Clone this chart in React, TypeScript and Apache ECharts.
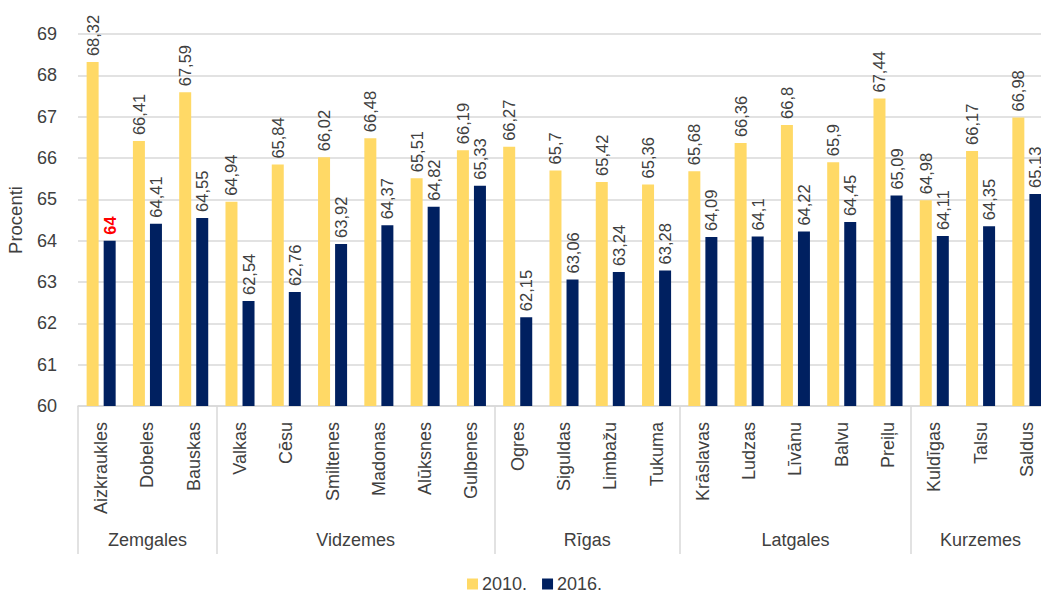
import React, { useEffect, useRef } from "react";
import * as echarts from "echarts";

const districts = [
  "Aizkraukles", "Dobeles", "Bauskas",
  "Valkas", "Cēsu", "Smiltenes", "Madonas", "Alūksnes", "Gulbenes",
  "Ogres", "Siguldas", "Limbažu", "Tukuma",
  "Krāslavas", "Ludzas", "Līvānu", "Balvu", "Preiļu",
  "Kuldīgas", "Talsu", "Saldus",
];
const values2010 = [
  68.32, 66.41, 67.59,
  64.94, 65.84, 66.02, 66.48, 65.51, 66.19,
  66.27, 65.7, 65.42, 65.36,
  65.68, 66.36, 66.8, 65.9, 67.44,
  64.98, 66.17, 66.98,
];
const values2016 = [
  64, 64.41, 64.55,
  62.54, 62.76, 63.92, 64.37, 64.82, 65.33,
  62.15, 63.06, 63.24, 63.28,
  64.09, 64.1, 64.22, 64.45, 65.09,
  64.11, 64.35, 65.13,
];
const regionNames = ["Zemgales", "Vidzemes", "Rīgas", "Latgales", "Kurzemes"];
const regionSizes = [3, 6, 4, 5, 3];
const highlightIndex2016 = 0;

const TEXT = "#404040";
const GRID = "#D9D9D9";
const YELLOW = "#FFD966";
const NAVY = "#002060";
const FONT = "'Liberation Sans', Arial, sans-serif";

export default function App() {
  const ref = useRef<HTMLDivElement>(null);
  useEffect(() => {
    if (!ref.current) return;
    const chart = echarts.init(ref.current, null, { renderer: "svg" });

    const boundaries: number[] = [0];
    const centers: number[] = [];
    let acc = 0;
    regionSizes.forEach((s) => {
      centers.push(acc + s / 2);
      acc += s;
      boundaries.push(acc);
    });
    const total = acc;
    const centerName = (v: number) => {
      const i = centers.findIndex((c) => Math.abs(c - v) < 1e-6);
      return i >= 0 ? regionNames[i] : "";
    };

    const fmt = (p: any) => String(p.value).replace(".", ",");
    const baseLabel = {
      show: true,
      position: "top",
      rotate: 90,
      align: "left",
      verticalAlign: "middle",
      distance: 6,
      fontSize: 16.5,
      color: TEXT,
      fontFamily: FONT,
      formatter: fmt,
    };

    const data2016 = values2016.map((v, i) =>
      i === highlightIndex2016
        ? { value: v, label: { color: "#FF0000", fontWeight: "bold" } }
        : v
    );

    chart.setOption({
      animation: false,
      textStyle: { fontFamily: FONT },
      grid: {
        left: 78,
        top: 34,
        width: 972,
        height: 372,
        containLabel: false,
        outerBoundsMode: "none",
      },
      legend: {
        data: ["2010.", "2016."],
        left: 462,
        top: 570,
        icon: "rect",
        itemWidth: 11,
        itemHeight: 11,
        itemGap: 15,
        itemStyle: { borderWidth: 0 },
        textStyle: { fontSize: 18, color: TEXT, fontFamily: FONT, padding: [0, 0, 0, -1] },
      },
      xAxis: [
        {
          type: "category",
          data: districts,
          axisLine: { show: true, lineStyle: { color: GRID, width: 1.5 } },
          axisTick: { show: false },
          axisLabel: {
            interval: 0,
            rotate: 90,
            margin: 16,
            fontSize: 18,
            color: TEXT,
            fontFamily: FONT,
          },
        },
        {
          type: "value",
          position: "bottom",
          min: 0,
          max: total,
          axisLine: { show: false },
          splitLine: { show: false },
          axisTick: {
            show: true,
            customValues: boundaries,
            length: 148,
            lineStyle: { color: GRID, width: 1.5 },
          },
          axisLabel: {
            customValues: centers,
            formatter: (v: number) => centerName(v),
            margin: 125,
            fontSize: 18,
            color: TEXT,
            fontFamily: FONT,
          },
        },
      ],
      yAxis: {
        type: "value",
        min: 60,
        max: 69,
        interval: 1,
        name: "Procenti",
        nameLocation: "middle",
        nameGap: 53,
        nameTextStyle: { fontSize: 18.5, color: TEXT, fontFamily: FONT },
        axisLine: { show: false },
        axisTick: { show: false },
        axisLabel: { fontSize: 18, color: TEXT, margin: 21, fontFamily: FONT },
        splitLine: { lineStyle: { color: GRID, width: 1.5 } },
      },
      series: [
        {
          name: "2010.",
          type: "bar",
          data: values2010,
          barWidth: 12,
          barGap: "42%",
          itemStyle: { color: YELLOW },
          label: baseLabel,
        },
        {
          name: "2016.",
          type: "bar",
          data: data2016,
          barWidth: 12,
          barGap: "42%",
          itemStyle: { color: NAVY },
          label: baseLabel,
        },
      ],
    });
    return () => chart.dispose();
  }, []);
  return (
    <div
      ref={ref}
      style={{ position: "absolute", left: 0, top: 0, width: 1041, height: 597 }}
    />
  );
}
